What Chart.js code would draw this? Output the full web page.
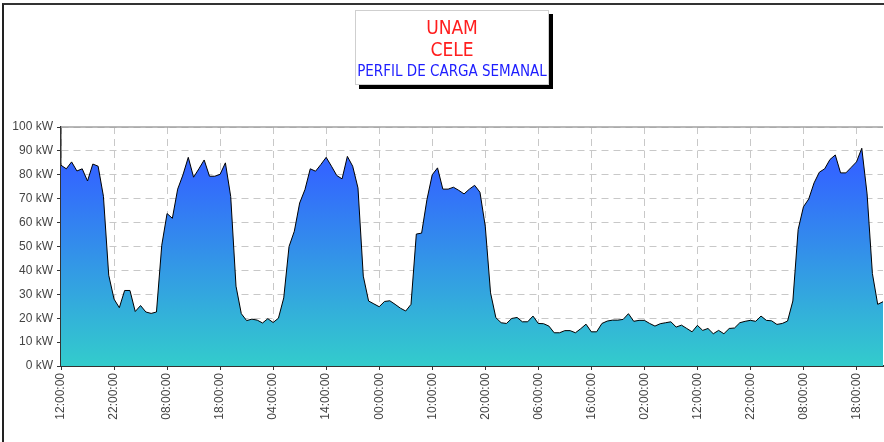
<!DOCTYPE html>
<html>
<head>
<meta charset="utf-8">
<script src="https://cdn.jsdelivr.net/npm/chart.js@4.4.0/dist/chart.umd.min.js"></script>
<style>
  html, body { margin: 0; padding: 0; background: #fff; }
  #wrap { position: relative; width: 884px; height: 442px; overflow: hidden; }
  #frame { position: absolute; left: 2px; top: 3px; width: 900px; height: 450px;
           border-left: 2px solid #222; border-top: 2px solid #333; }
  #chart { position: absolute; left: 0; top: 0; }
  #titleBox { position: absolute; left: 355px; top: 10px; width: 192px; height: 73px;
              background: #fff; border: 1px solid #cfcfcf; box-shadow: 4px 4px 0 #000;
              font-family: "Liberation Sans Narrow", "DejaVu Sans Condensed", "Liberation Sans", sans-serif;
              text-align: center; }
  #titleBox div { position: absolute; left: 0; width: 100%; white-space: nowrap; }
  .t1 { color: #ff1e1e; font-size: 19px; }
  .t3 { color: #1e1eff; font-size: 15px; }
</style>
</head>
<body>
<div id="wrap">
  <div id="frame"></div>
  <canvas id="chart" width="884" height="442"></canvas>
  <div id="titleBox">
    <div class="t1" style="top:5px">UNAM</div>
    <div class="t1" style="top:27px">CELE</div>
    <div class="t3" style="top:51px">PERFIL DE CARGA SEMANAL</div>
  </div>
</div>
<script>
// hourly demand in kW, starting at 12:00:00
const loadKw = [
  84, 82.5, 85.4, 81.6, 82.5, 77.4, 84.5, 83.6, 71, 38,
  28, 24.4, 31.6, 31.6, 22.8, 25.3, 22.6, 22, 22.6, 50.5,
  63.8, 61.8, 74, 80, 87.3, 79, 82.5, 86.2, 79.4, 79.4,
  80.2, 85, 70.9, 33.4, 21.9, 19, 19.6, 19.2, 18, 19.8,
  18.2, 20, 28.5, 50, 56.4, 68.2, 73.8, 82.5, 81.5, 84.3,
  87.3, 83.6, 79.7, 78.3, 87.7, 83.6, 74.5, 37.6, 27.2, 26,
  24.8, 27, 27.3, 25.8, 24.2, 23, 25.8, 55.2, 55.6, 69.6,
  80, 82.9, 74, 74, 74.8, 73.5, 72, 74, 75.6, 72.7,
  58.5, 30.6, 20.2, 18.1, 17.8, 19.9, 20.3, 18.5, 18.5, 20.9,
  17.8, 17.7, 16.7, 13.9, 13.9, 14.8, 14.8, 13.9, 15.6, 17.5,
  14.3, 14.3, 17.8, 18.8, 19.2, 19.2, 19.5, 21.9, 18.7, 19.1,
  19.1, 17.8, 16.7, 17.7, 18.1, 18.5, 16.3, 17.1, 15.7, 14.3,
  17, 14.9, 15.7, 13.5, 14.9, 13.5, 15.7, 15.9, 18.1, 18.7,
  19.1, 18.7, 20.9, 19.1, 18.9, 17.4, 17.8, 18.8, 27.2, 57.1,
  66.6, 69.9, 76.6, 81.1, 82.5, 86.4, 88.3, 80.8, 80.8, 83.1,
  85.4, 91.1, 72, 38.7, 25.8, 26.9
];

const startHour = 12;
const labelEvery = 10; // one tick label every 10 hours

// category labels: HH:00:00 for every hour
const hourLabels = loadKw.map((v, i) => {
  const h = (startHour + i) % 24;
  return (h < 10 ? "0" + h : "" + h) + ":00:00";
});

const tickFont = { family: "'Liberation Sans', Arial, sans-serif", size: 12 };

// solid line along the top of the plot area
const topEdge = {
  id: "topEdge",
  afterDraw(chart) {
    const { ctx, chartArea } = chart;
    ctx.save();
    ctx.strokeStyle = "#a0a0a0";
    ctx.lineWidth = 1.5;
    ctx.beginPath();
    ctx.moveTo(chartArea.left, chartArea.top);
    ctx.lineTo(chartArea.right, chartArea.top);
    ctx.stroke();
    ctx.restore();
  }
};

const ctx = document.getElementById("chart").getContext("2d");

new Chart(ctx, {
  type: "line",
  data: {
    labels: hourLabels,
    datasets: [{
      data: loadKw,
      borderColor: "#000",
      borderWidth: 1,
      pointRadius: 0,
      tension: 0,
      fill: "origin",
      backgroundColor(c) {
        const area = c.chart.chartArea;
        if (!area) return "#33aadd";
        const g = c.chart.ctx.createLinearGradient(0, area.top, 0, area.bottom);
        g.addColorStop(0, "#3366ff");
        g.addColorStop(0.18, "#3366ff");
        g.addColorStop(1, "#33cccc");
        return g;
      }
    }]
  },
  options: {
    responsive: false,
    animation: false,
    layout: { padding: { left: 5, top: 127, right: 1, bottom: 0 } },
    plugins: { legend: { display: false }, tooltip: { enabled: false } },
    scales: {
      x: {
        afterFit(scale) { scale.height = 76; },
        grid: { color: "#c8c8c8", tickColor: "#333", tickLength: 4, tickBorderDash: [] },
        border: { color: "#333", width: 2, dash: [7, 5] },
        ticks: {
          autoSkip: false,
          maxRotation: 90,
          minRotation: 90,
          padding: 3,
          color: "#444",
          font: tickFont,
          callback(value, index) {
            return index % labelEvery === 0 ? this.getLabelForValue(value) : null;
          }
        }
      },
      y: {
        min: 0,
        max: 100,
        afterFit(scale) { scale.width = 56; },
        grid: { color: "#c8c8c8", tickColor: "#333", tickLength: 4, tickBorderDash: [] },
        border: { color: "#333", width: 1.5, dash: [7, 5] },
        ticks: {
          stepSize: 10,
          padding: 4,
          color: "#444",
          font: tickFont,
          callback: v => v + " kW"
        }
      }
    }
  },
  plugins: [topEdge]
});
</script>
</body>
</html>
